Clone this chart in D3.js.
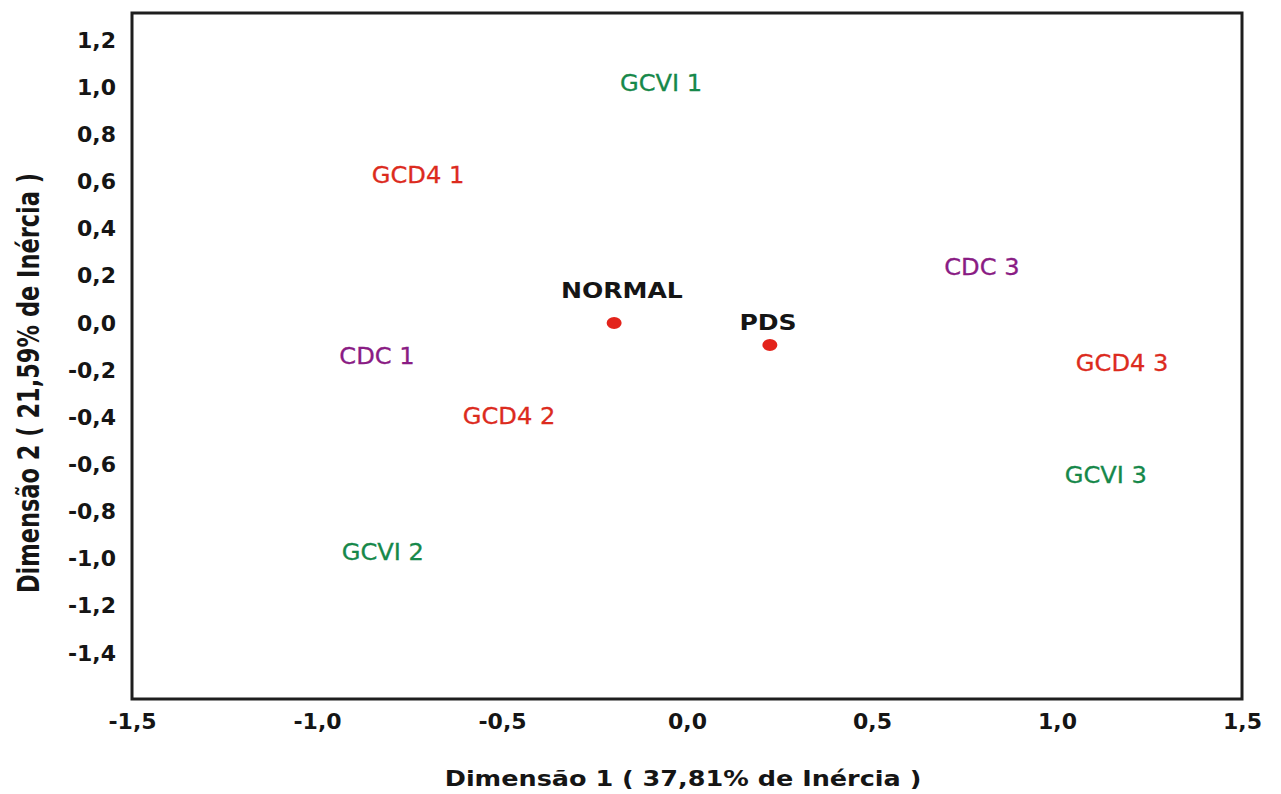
<!DOCTYPE html>
<html>
<head>
<meta charset="utf-8">
<script src="https://cdn.jsdelivr.net/npm/d3@7"></script>
<style>
  body { margin: 0; background: #fff; }
  text { font-family: "DejaVu Sans", sans-serif; }
</style>
</head>
<body>
<div id="chart"></div>
<script>
// row points (labels only)
const groups = ["GCVI 1", "GCVI 2", "GCVI 3", "GCD4 1", "GCD4 2", "GCD4 3", "CDC 1", "CDC 3"];
const dim1 = [-0.07, -0.822, 1.132, -0.727, -0.481, 1.176, -0.838, 0.797];
const dim2 = [1.018, -0.971, -0.645, 0.628, -0.394, -0.17, -0.14, 0.237];

// column points (dots) and where their names sit
const states = ["NORMAL", "PDS"];
const stateDim1 = [-0.197, 0.224];
const stateDim2 = [0.0, -0.093];
const stateLabelDim1 = [-0.176, 0.219];
const stateLabelDim2 = [0.14, 0.004];

const xTicks = [-1.5, -1.0, -0.5, 0.0, 0.5, 1.0, 1.5];
const yTicks = [1.2, 1.0, 0.8, 0.6, 0.4, 0.2, 0.0, -0.2, -0.4, -0.6, -0.8, -1.0, -1.2, -1.4];

const Width = 1281, Height = 794;
const Left = 132, Right = 1242, Top = 13, Bottom = 699;

const colors = { GCVI: "#16884a", GCD4: "#dc2b1e", CDC: "#8a1c84" };

const ptBR = d3.formatLocale({ decimal: ",", thousands: ".", grouping: [3], currency: ["", ""], minus: "-" });
const fmt = ptBR.format(".1f");

const svg = d3.select("#chart").append("svg").attr("width", Width).attr("height", Height);

const x = d3.scaleLinear().domain([-1.5, 1.5]).range([Left, Right]);
const y = d3.scaleLinear().domain([-1.595, 1.315]).range([Bottom, Top]);

// axes
svg.append("g")
  .attr("transform", `translate(${Left},0)`)
  .call(d3.axisLeft(y).tickValues(yTicks).tickFormat(fmt).tickSize(0).tickPadding(16))
  .call(g => g.select(".domain").remove())
  .selectAll("text")
  .attr("font-family", "DejaVu Sans").attr("font-weight", "bold").attr("font-size", 22).attr("fill", "#151515");

svg.append("g")
  .attr("transform", `translate(0,${Bottom})`)
  .call(d3.axisBottom(x).tickValues(xTicks).tickFormat(fmt).tickSize(0).tickPadding(14))
  .call(g => g.select(".domain").remove())
  .selectAll("text")
  .attr("font-family", "DejaVu Sans").attr("font-weight", "bold").attr("font-size", 22).attr("fill", "#151515");

// frame
svg.append("rect")
  .attr("x", Left).attr("y", Top)
  .attr("width", Right - Left).attr("height", Bottom - Top)
  .attr("fill", "none").attr("stroke", "#1e1e1e").attr("stroke-width", 3);

// axis titles (the original is a bit stretched sideways)
svg.append("text")
  .attr("transform", "translate(683,778) scale(1.16,1)")
  .attr("dy", "0.36em")
  .attr("text-anchor", "middle").attr("font-weight", "bold").attr("font-size", 22).attr("fill", "#151515")
  .text("Dimensão 1 ( 37,81% de Inércia )");

svg.append("text")
  .attr("transform", "translate(28,383) scale(1.3,1) rotate(-90)")
  .attr("dy", "0.36em")
  .attr("text-anchor", "middle").attr("font-weight", "bold").attr("font-size", 22.5).attr("fill", "#151515")
  .text("Dimensão 2 ( 21,59% de Inércia )");

// row labels
svg.append("g").selectAll("text")
  .data(groups)
  .enter()
  .append("text")
  .attr("transform", (d, i) => `translate(${x(dim1[i])},${y(dim2[i])}) scale(1.05,1)`)
  .attr("dy", "0.36em")
  .attr("text-anchor", "middle")
  .attr("font-family", "Liberation Sans")
  .attr("font-size", 23)
  .attr("fill", d => colors[d.split(" ")[0]])
  .attr("stroke", d => colors[d.split(" ")[0]])
  .attr("stroke-width", 0.3)
  .text(d => d);

// column points
svg.append("g").selectAll("ellipse")
  .data(states)
  .enter()
  .append("ellipse")
  .attr("cx", (d, i) => x(stateDim1[i]))
  .attr("cy", (d, i) => y(stateDim2[i]))
  .attr("rx", 7.5).attr("ry", 6)
  .attr("fill", "#e3231b");

svg.append("g").selectAll("text")
  .data(states)
  .enter()
  .append("text")
  .attr("transform", (d, i) => `translate(${x(stateLabelDim1[i])},${y(stateLabelDim2[i])}) scale(1.14,1)`)
  .attr("dy", "0.36em")
  .attr("text-anchor", "middle")
  .attr("font-weight", "bold").attr("font-size", 22).attr("fill", "#151515")
  .text(d => d);
</script>
</body>
</html>
